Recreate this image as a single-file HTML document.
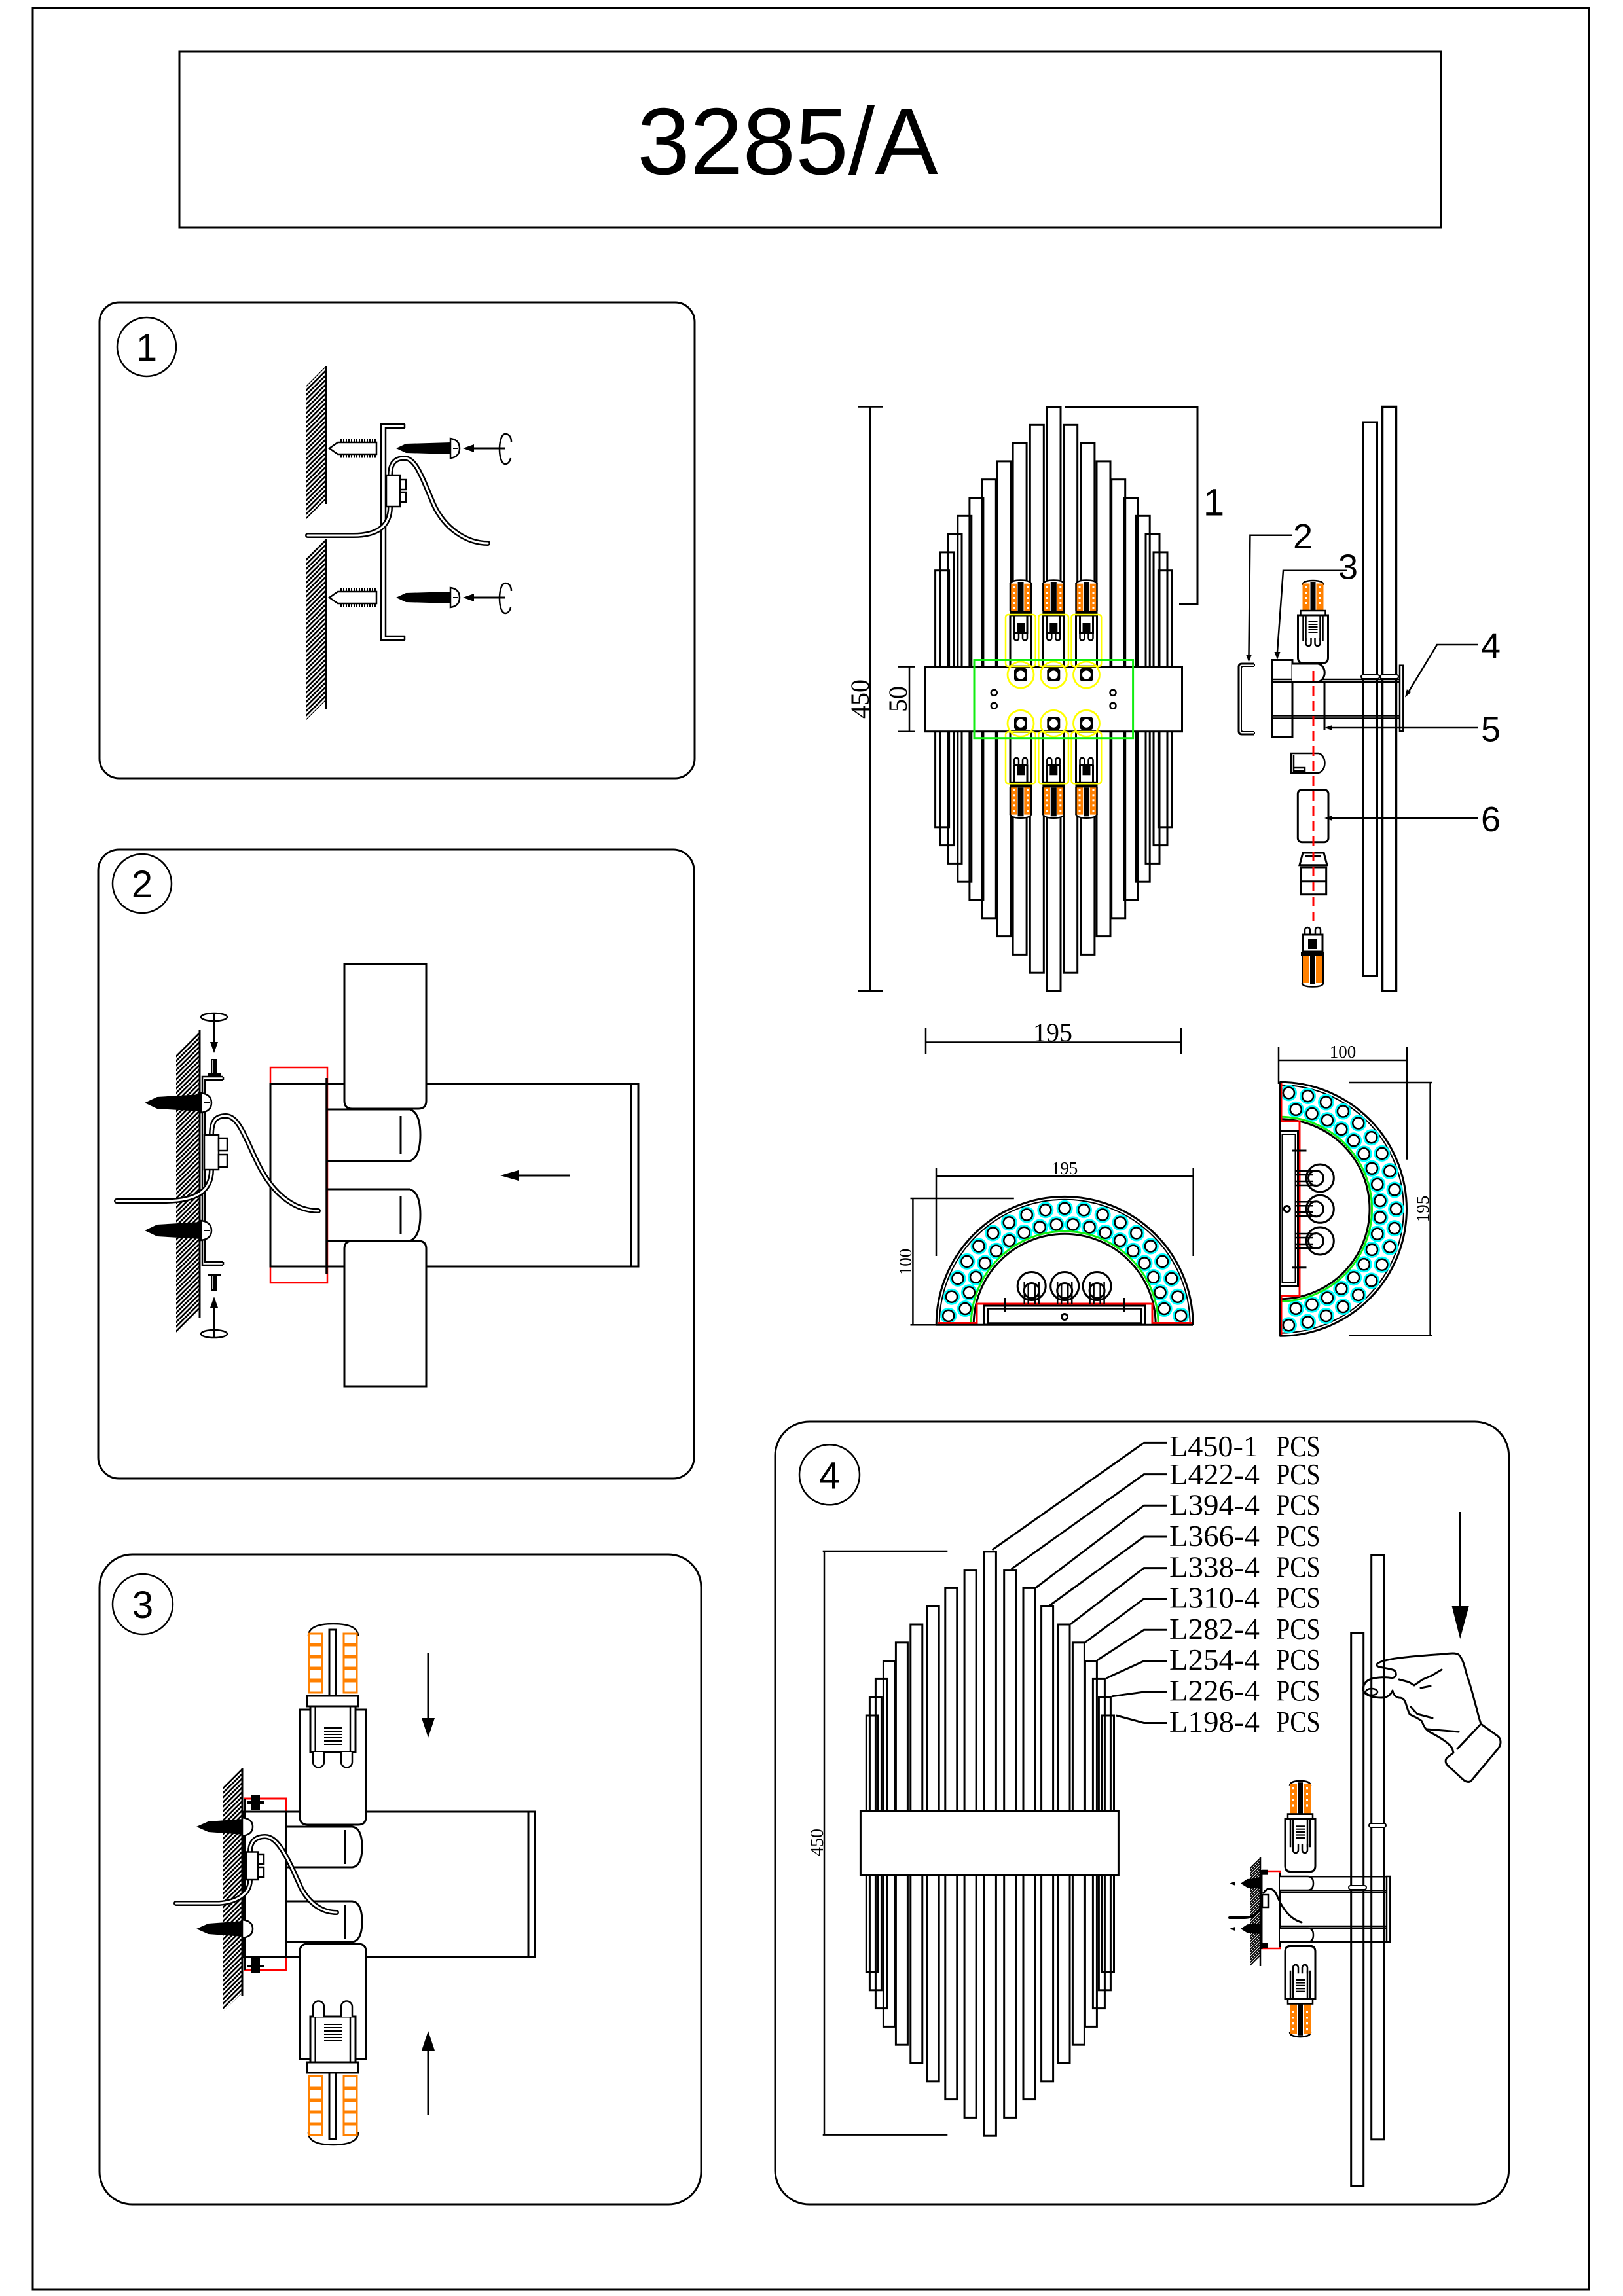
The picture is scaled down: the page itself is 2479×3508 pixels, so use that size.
<!DOCTYPE html>
<html><head><meta charset="utf-8"><title>3285/A</title>
<style>html,body{margin:0;padding:0;background:#fff}svg{display:block}</style></head>
<body>
<svg xmlns="http://www.w3.org/2000/svg" width="2479" height="3508" viewBox="0 0 2479 3508">
<defs>
<pattern id="h7" width="7" height="7" patternUnits="userSpaceOnUse"><path d="M-1,8 L8,-1 M-1,1 L1,-1 M6,8 L8,6" stroke="#000" stroke-width="2.6"/></pattern>
<pattern id="h4" width="4" height="4" patternUnits="userSpaceOnUse"><path d="M-1,5 L5,-1 M-1,1 L1,-1 M3,5 L5,3" stroke="#000" stroke-width="2"/></pattern>
<g id="hole"><circle r="12.5" fill="#00ffff"/><circle r="8.5" fill="#fff" stroke="#000" stroke-width="2.5"/></g>
<g id="fb">
 <path d="M-16,893 Q-16,886.5 0,886.5 Q16,886.5 16,893" fill="#fff" stroke="#000" stroke-width="2.5"/>
 <rect x="-16" y="891.7" width="10.7" height="41.6" fill="#ff8000"/>
 <rect x="5.3" y="891.7" width="10.7" height="41.6" fill="#ff8000"/>
 <rect x="-4.5" y="889" width="9" height="44" fill="#000"/>
 <g fill="#fff"><rect x="-12" y="896" width="3" height="3"/><rect x="-12" y="904" width="3" height="3"/><rect x="-12" y="912" width="3" height="3"/><rect x="-12" y="920" width="3" height="3"/><rect x="-12" y="928" width="3" height="3"/><rect x="9" y="896" width="3" height="3"/><rect x="9" y="904" width="3" height="3"/><rect x="9" y="912" width="3" height="3"/><rect x="9" y="920" width="3" height="3"/><rect x="9" y="928" width="3" height="3"/></g>
 <path d="M-16,891 V934 M16,891 V934" stroke="#000" stroke-width="2.5"/>
 <rect x="-17" y="933" width="34" height="7" fill="#000"/>
 <rect x="-16" y="940" width="32" height="78" fill="#fff" stroke="#000" stroke-width="3"/>
 <path d="M-10,940 V968 M10,940 V968 M-10,967 H10" stroke="#000" stroke-width="3"/>
 <rect x="-6" y="952" width="12" height="15" fill="#000"/>
 <path d="M-10,968 V975 A3.5,3.5 0 0 0 -3,975 V968 M3,968 V975 A3.5,3.5 0 0 0 10,975 V968" fill="none" stroke="#000" stroke-width="2.5"/>
 <rect x="-23" y="939" width="45.7" height="79" rx="4" fill="none" stroke="#ffff00" stroke-width="2.5"/>
 <circle cx="0" cy="1031" r="20" fill="none" stroke="#ffff00" stroke-width="2.8"/>
 <rect x="-10" y="1021" width="20" height="20" rx="4" fill="#000"/>
 <circle cx="0" cy="1031" r="6.5" fill="#fff"/>
</g>
<g id="sb">
 <path d="M-16,7 Q-16,0 0,0 Q16,0 16,7" fill="#fff" stroke="#000" stroke-width="2.5"/>
 <rect x="-16" y="4.5" width="11" height="41.5" fill="#ff8000"/>
 <rect x="5" y="4.5" width="11" height="41.5" fill="#ff8000"/>
 <rect x="-4" y="2" width="8" height="44" fill="#000"/>
 <g fill="#fff"><rect x="-12" y="9" width="3" height="3"/><rect x="-12" y="17" width="3" height="3"/><rect x="-12" y="25" width="3" height="3"/><rect x="-12" y="33" width="3" height="3"/><rect x="9" y="9" width="3" height="3"/><rect x="9" y="17" width="3" height="3"/><rect x="9" y="25" width="3" height="3"/><rect x="9" y="33" width="3" height="3"/></g>
 <rect x="-19" y="46" width="38" height="7" fill="#fff" stroke="#000" stroke-width="2.5"/>
 <path d="M-23,53 V118 Q-23,126 -15,126 H15 Q23,126 23,118 V53 Z" fill="#fff" stroke="#000" stroke-width="3"/>
 <path d="M-15,53 V92 M15,53 V92 M-11,53 V92 M11,53 V92" stroke="#000" stroke-width="2.5"/>
 <path d="M-7,63 H7 M-7,67 H7 M-7,71 H7 M-7,75 H7 M-7,79 H7" stroke="#000" stroke-width="2"/>
 <path d="M-11,88 V96 A4,4 0 0 0 -3,96 V88 M3,88 V96 A4,4 0 0 0 11,96 V88" fill="none" stroke="#000" stroke-width="2.5"/>
</g>
<g id="p3bulb">
 <rect x="474" y="2607" width="69" height="70" fill="#fff" stroke="#000" stroke-width="3"/>
 <path d="M481.7,2607 V2677 M535,2607 V2677" stroke="#000" stroke-width="2.5"/>
 <path d="M495,2640 H523 M495,2645 H523 M495,2650 H523 M495,2655 H523 M495,2660 H523 M495,2665 H523" stroke="#000" stroke-width="2"/>
 <path d="M478,2677 V2692 A8.5,8.5 0 0 0 495,2692 V2677 M521,2677 V2692 A8.5,8.5 0 0 0 538,2692 V2677" fill="#fff" stroke="#000" stroke-width="2.5"/>
 <rect x="469.5" y="2591" width="77.5" height="16" fill="#fff" stroke="#000" stroke-width="3"/>
 <path d="M471,2500 Q471,2481 509,2481 Q547,2481 547,2500" fill="#fff" stroke="#000" stroke-width="2.5"/>
 <g fill="#fff" stroke="#ff8000" stroke-width="3">
  <rect x="472" y="2496" width="20" height="16"/><rect x="472" y="2514" width="20" height="16"/><rect x="472" y="2532" width="20" height="16"/><rect x="472" y="2550" width="20" height="16"/><rect x="472" y="2569" width="20" height="17"/>
  <rect x="525" y="2496" width="20" height="16"/><rect x="525" y="2514" width="20" height="16"/><rect x="525" y="2532" width="20" height="16"/><rect x="525" y="2550" width="20" height="16"/><rect x="525" y="2569" width="20" height="17"/>
 </g>
 <rect x="503" y="2490" width="10.5" height="101" fill="#fff" stroke="#000" stroke-width="3"/>
</g>
</defs>
<rect width="2479" height="3508" fill="#fff"/>

<!-- outer border & title -->
<rect x="50" y="12" width="2377" height="3486" fill="none" stroke="#000" stroke-width="3"/>
<rect x="274" y="79" width="1927" height="269" fill="none" stroke="#000" stroke-width="3"/>
<text x="1203" y="266" text-anchor="middle" font-family="Liberation Sans, Arial, sans-serif" font-size="145">3285/A</text>

<!-- ========== PANEL 1 ========== -->
<g fill="none" stroke="#000" stroke-width="3">
<rect x="152" y="462" width="909" height="727" rx="30"/>
<circle cx="224" cy="530" r="45" stroke-width="2.5"/>
</g>
<text x="224" y="551" text-anchor="middle" font-family="Liberation Sans, sans-serif" font-size="58">1</text>
<polygon points="498,559 498,763 467,794 467,590" fill="url(#h7)"/>
<polygon points="498,823 498,1070 467,1101 467,854" fill="url(#h7)"/>
<g fill="none" stroke="#000" stroke-width="3">
<path d="M498.5,559 V770 M498.5,823 V1083"/>
<path d="M618,648 H582 V978 H618 M618,654 H589 V972 H618 M618,648 V654 M618,972 V978" stroke-width="2.5"/>
</g>
<g id="p1row">
<path d="M503,685 L516,676 H575 V694 H516 Z" fill="#fff" stroke="#000" stroke-width="2.5"/>
<path d="M520,673 H575 M520,697 H575" stroke="#000" stroke-width="5" stroke-dasharray="2 2"/>
<path d="M605,685 L620,678 L689,676 V694 L620,692 Z" fill="#000"/>
<path d="M688,670 V700 Q702,698 702,685 Q702,672 688,670 Z" fill="#fff" stroke="#000" stroke-width="2.5"/>
<path d="M692,685 H699" stroke="#000" stroke-width="2"/>
<path d="M718,685 H772" stroke="#000" stroke-width="3"/>
<polygon points="707,685 724,679 724,691" fill="#000"/>
<path d="M781,675 C781,666 776,663 772,663 C766,663 763,675 763,686 C763,698 766,709 772,709 C776,709 779,705 780,700" fill="none" stroke="#000" stroke-width="2.5"/>
</g>
<use href="#p1row" transform="translate(0,228)"/>
<g fill="none" stroke-linecap="round">
<path d="M470,818 H540 C575,818 596,805 596,774" stroke="#000" stroke-width="8"/>
<path d="M470,818 H540 C575,818 596,805 596,774" stroke="#fff" stroke-width="3"/>
<path d="M596,726 C596,708 603,700 618,700 C635,700 645,730 662,770 C680,810 715,830 745,830" stroke="#000" stroke-width="8"/>
<path d="M596,726 C596,708 603,700 618,700 C635,700 645,730 662,770 C680,810 715,830 745,830" stroke="#fff" stroke-width="3"/>
</g>
<g fill="#fff" stroke="#000" stroke-width="2.5">
<rect x="590" y="726" width="21" height="48"/>
<rect x="611" y="733" width="9" height="15"/>
<rect x="611" y="752" width="9" height="15"/>
</g>

<!-- ========== PANEL 2 ========== -->
<g fill="none" stroke="#000" stroke-width="3">
<rect x="150" y="1298" width="910" height="961" rx="32"/>
<circle cx="217" cy="1350" r="45" stroke-width="2.5"/>
</g>
<text x="217" y="1371" text-anchor="middle" font-family="Liberation Sans, sans-serif" font-size="58">2</text>
<rect x="413" y="1631" width="87" height="329" fill="none" stroke="#ff0000" stroke-width="2.5"/>
<g fill="none" stroke="#000" stroke-width="3">
<rect x="413" y="1656" width="562" height="279"/>
<path d="M964,1656 V1935"/>
<path d="M499,1647 V1947" stroke-width="3.5"/>
<path d="M500,1695 H626 Q642,1700 642,1734 Q642,1768 626,1774 H500 M612,1705 V1763"/>
<path d="M500,1817 H626 Q642,1822 642,1856 Q642,1890 626,1896 H500 M612,1827 V1886"/>
<path d="M526,1473 H651 V1682 Q651,1694 639,1694 H538 Q526,1694 526,1682 Z" fill="#fff"/>
<path d="M526,2118 H651 V1908 Q651,1896 639,1896 H538 Q526,1896 526,1908 Z" fill="#fff"/>
<path d="M870,1796 H785"/>
</g>
<polygon points="764,1796 792,1788 792,1804" fill="#000"/>
<polygon points="305,1574 305,2002 269,2038 269,1610" fill="url(#h7)"/>
<g fill="none" stroke="#000" stroke-width="3">
<path d="M305,1574 V2013"/>
<path d="M341,1645 H309 V1933 H341 M341,1650 H313 V1928 H341 M341,1645 V1650 M341,1928 V1933" stroke-width="2.5"/>
<ellipse cx="327" cy="1554" rx="20" ry="6" stroke-width="2.5"/>
<path d="M327,1548 V1595"/>
<ellipse cx="327" cy="2038" rx="20" ry="6" stroke-width="2.5"/>
<path d="M327,2044 V1995"/>
</g>
<polygon points="327,1609 321,1592 333,1592" fill="#000"/>
<polygon points="327,1981 321,1998 333,1998" fill="#000"/>
<g fill="#000">
<rect x="322" y="1618" width="10" height="24"/><rect x="317" y="1640" width="20" height="4"/>
<rect x="322" y="1948" width="10" height="24"/><rect x="317" y="1946" width="20" height="4"/>
</g>
<path d="M325,1620 V1640 M325,1950 V1970" stroke="#fff" stroke-width="1.5"/>
<g id="p2screw">
<path d="M221,1685 L240,1676 L307,1672 V1698 L240,1694 Z" fill="#000"/>
<path d="M307,1670 V1700 Q323,1698 323,1685 Q323,1672 307,1670 Z" fill="#fff" stroke="#000" stroke-width="2.5"/>
<path d="M311,1685 H320" stroke="#000" stroke-width="2"/>
</g>
<use href="#p2screw" transform="translate(0,195)"/>
<g fill="none" stroke-linecap="round">
<path d="M178,1835 H250 C300,1835 323,1820 323,1787" stroke="#000" stroke-width="8"/>
<path d="M178,1835 H250 C300,1835 323,1820 323,1787" stroke="#fff" stroke-width="3"/>
<path d="M323,1734 C323,1712 330,1705 345,1705 C365,1705 375,1740 395,1780 C420,1830 455,1850 486,1850" stroke="#000" stroke-width="8"/>
<path d="M323,1734 C323,1712 330,1705 345,1705 C365,1705 375,1740 395,1780 C420,1830 455,1850 486,1850" stroke="#fff" stroke-width="3"/>
</g>
<g fill="#fff" stroke="#000" stroke-width="2.5">
<rect x="312" y="1734" width="22" height="53"/>
<rect x="334" y="1739" width="13" height="19"/>
<rect x="334" y="1764" width="13" height="19"/>
</g>

<!-- ========== PANEL 3 ========== -->
<g fill="none" stroke="#000" stroke-width="3">
<rect x="152" y="2375" width="919" height="993" rx="50"/>
<circle cx="218" cy="2451" r="46" stroke-width="2.5"/>
</g>
<text x="218" y="2472" text-anchor="middle" font-family="Liberation Sans, sans-serif" font-size="58">3</text>
<polygon points="370,2701 370,3045 341,3073 341,2730" fill="url(#h7)"/>
<path d="M373,2748 H437 V3010 H373" fill="none" stroke="#ff0000" stroke-width="3"/>
<g fill="none" stroke="#000" stroke-width="3">
<path d="M370,2701 V3050"/>
<path d="M374,2748 V3010"/>
<rect x="373" y="2768" width="444" height="222"/>
<path d="M807,2768 V2990"/>
<path d="M437,2768 V2990" stroke-width="3.5"/>
<path d="M437,2791 H538 Q553,2793 553,2822 Q553,2851 538,2853 H437 M527,2796 V2848"/>
<path d="M437,2905 H538 Q553,2907 553,2936 Q553,2965 538,2967 H437 M527,2910 V2962"/>
<path d="M458,2612 V2776 Q458,2788 470,2788 H547 Q559,2788 559,2776 V2612 Z" fill="#fff"/>
<path d="M458,3146 V2982 Q458,2970 470,2970 H547 Q559,2970 559,2982 V3146 Z" fill="#fff"/>
<path d="M654,2526 V2630 M654,3232 V3128"/>
</g>
<use href="#p3bulb"/>
<use href="#p3bulb" transform="translate(0,5758) scale(1,-1)"/>
<polygon points="644,2625 664,2625 654,2655" fill="#000"/>
<polygon points="644,3133 664,3133 654,3103" fill="#000"/>
<g fill="#000">
<rect x="384" y="2743" width="13" height="22"/><rect x="378" y="2752" width="26" height="4"/>
<rect x="384" y="2992" width="13" height="22"/><rect x="378" y="3002" width="26" height="4"/>
</g>
<g id="p3screw">
<path d="M300,2791 L318,2783 L372,2779 V2803 L318,2799 Z" fill="#000"/>
<path d="M370,2777 V2805 Q386,2803 386,2791 Q386,2779 370,2777 Z" fill="#fff" stroke="#000" stroke-width="2.5"/>
</g>
<use href="#p3screw" transform="translate(0,156)"/>
<g fill="none" stroke-linecap="round">
<path d="M269,2908 H335 C360,2906 382,2895 382,2872" stroke="#000" stroke-width="8"/>
<path d="M269,2908 H335 C360,2906 382,2895 382,2872" stroke="#fff" stroke-width="3"/>
<path d="M382,2829 C382,2812 392,2806 405,2806 C425,2806 440,2840 460,2885 C475,2912 495,2922 514,2922" stroke="#000" stroke-width="8"/>
<path d="M382,2829 C382,2812 392,2806 405,2806 C425,2806 440,2840 460,2885 C475,2912 495,2922 514,2922" stroke="#fff" stroke-width="3"/>
</g>
<g fill="#fff" stroke="#000" stroke-width="2.5">
<rect x="376" y="2829.5" width="18" height="42.5"/>
<rect x="394" y="2833" width="9" height="15"/>
<rect x="394" y="2853" width="9" height="15"/>
</g>

<!-- ========== MAIN FRONT VIEW ========== -->
<g fill="none" stroke="#000" stroke-width="3">
<rect x="1428.6" y="871.7" width="21" height="392.1"/><rect x="1769.4" y="871.7" width="21" height="392.1"/>
<rect x="1436" y="843.9" width="21" height="447.7"/><rect x="1762" y="843.9" width="21" height="447.7"/>
<rect x="1448" y="816.1" width="21" height="503.3"/><rect x="1750" y="816.1" width="21" height="503.3"/>
<rect x="1462.8" y="788.3" width="21" height="558.9"/><rect x="1735.2" y="788.3" width="21" height="558.9"/>
<rect x="1480.9" y="760.5" width="21" height="614.5"/><rect x="1717.1" y="760.5" width="21" height="614.5"/>
<rect x="1500.3" y="732.7" width="21" height="670.1"/><rect x="1697.7" y="732.7" width="21" height="670.1"/>
<rect x="1523" y="704.9" width="21" height="725.7"/><rect x="1675" y="704.9" width="21" height="725.7"/>
<rect x="1547.1" y="677.1" width="21" height="781.3"/><rect x="1650.9" y="677.1" width="21" height="781.3"/>
<rect x="1573.3" y="649.3" width="21" height="836.9"/><rect x="1624.7" y="649.3" width="21" height="836.9"/>
<rect x="1599" y="621.5" width="21" height="892.5"/>
<rect x="1412.5" y="1018.6" width="393" height="99.1" fill="#fff"/>
</g>
<use href="#fb" transform="translate(1559,0)"/>
<use href="#fb" transform="translate(1609.3,0)"/>
<use href="#fb" transform="translate(1659.5,0)"/>
<use href="#fb" transform="translate(1559,2136.3) scale(1,-1)"/>
<use href="#fb" transform="translate(1609.3,2136.3) scale(1,-1)"/>
<use href="#fb" transform="translate(1659.5,2136.3) scale(1,-1)"/>
<g fill="#fff" stroke="#000" stroke-width="2.5">
<circle cx="1518.3" cy="1058.3" r="4.5"/><circle cx="1518.3" cy="1078.3" r="4.5"/>
<circle cx="1700" cy="1058.3" r="4.5"/><circle cx="1700" cy="1078.3" r="4.5"/>
</g>
<rect x="1488" y="1008.5" width="242.6" height="119.2" fill="none" stroke="#11ee11" stroke-width="3"/>
<g fill="none" stroke="#000" stroke-width="2.5">
<path d="M1329,621.5 V1514 M1311,621.5 H1349 M1311,1514 H1349"/>
<path d="M1389,1018.6 V1117.7 M1372,1018.6 H1398 M1372,1117.7 H1398"/>
<path d="M1414,1592.5 H1804 M1414,1571 V1611 M1804,1571 V1611"/>
<path d="M1626.8,621.5 H1829 V922.8 H1801" stroke-width="3"/>
</g>
<g font-family="Liberation Serif, serif" font-size="40">
<text transform="translate(1327,1068) rotate(-90)" text-anchor="middle">450</text>
<text transform="translate(1385,1068) rotate(-90)" text-anchor="middle">50</text>
<text x="1608" y="1591" text-anchor="middle">195</text>
</g>

<!-- ========== MAIN SIDE VIEW ========== -->
<g fill="none" stroke="#000" stroke-width="3">
<rect x="2082.5" y="645" width="21" height="846"/>
<rect x="2111.5" y="621.5" width="21" height="892.5" stroke-width="3.5"/>
<rect x="2079" y="1031" width="28" height="6" rx="3" fill="#fff" stroke-width="2"/>
<rect x="2108" y="1031" width="28" height="6" rx="3" fill="#fff" stroke-width="2"/>
<path d="M1916,1014 H1897 Q1892,1014 1892,1019 V1117 Q1892,1122 1897,1122 H1916"/>
<path d="M1916,1018 H1899 Q1896,1018 1896,1021 V1115 Q1896,1118 1899,1118 H1916" stroke-width="2"/>
<path d="M1916,1014 V1018 M1916,1118 V1122" stroke-width="2"/>
<rect x="1943" y="1008.5" width="31" height="117.5" fill="#fff"/>
<path d="M1943,1038 H2138 M1943,1042 H2138 M1943,1093.5 H2138 M1943,1097.5 H2138" stroke-width="2.5"/>
<rect x="2138" y="1016.7" width="5.3" height="100.6" stroke-width="2.5"/>
<path d="M1974,1014 H2013 A12,14 0 0 1 2013,1041.7 H1974" fill="#fff"/>
<path d="M2023,1041.7 V1115"/>
<path d="M1972,1151 H2014 A11,15 0 0 1 2014,1180.7 H1972 Z M1976,1154 V1178 H1993 V1173 H1976" stroke-width="2.5"/>
<rect x="1982.3" y="1206.7" width="46.7" height="80" rx="6"/>
<path d="M1985,1321.7 L1990,1303 H2022 L2027,1321.7 Z M1994,1308 H2018"/>
<rect x="1987.3" y="1325" width="38.4" height="41.7"/>
<path d="M1987.3,1346.7 H2025.7"/>
</g>
<use href="#sb" transform="translate(2005.5,887)"/>
<g>
<path d="M1993,1430 V1421 A4,4 0 0 1 2001,1421 V1430 M2009,1430 V1421 A4,4 0 0 1 2017,1421 V1430" fill="none" stroke="#000" stroke-width="2.5"/>
<rect x="1990" y="1428" width="30" height="26" fill="#fff" stroke="#000" stroke-width="3"/>
<rect x="1998" y="1434" width="14" height="16" fill="#000"/>
<rect x="1987" y="1454" width="36" height="6" fill="#000"/>
<rect x="1989" y="1460" width="11" height="42" fill="#ff8000"/>
<rect x="2010" y="1460" width="11" height="42" fill="#ff8000"/>
<rect x="2001" y="1460" width="8" height="44" fill="#000"/>
<path d="M1989,1460 V1502 M2021,1460 V1502" stroke="#000" stroke-width="2"/>
<path d="M1989,1502 Q1989,1507.5 2005,1507.5 Q2021,1507.5 2021,1502" fill="none" stroke="#000" stroke-width="2.5"/>
</g>
<path d="M2006,1025 V1407" stroke="#ff0000" stroke-width="3" stroke-dasharray="15 8"/>
<g fill="none" stroke="#000" stroke-width="2.5">
<path d="M1973,817.7 H1909.4 L1907.5,1000"/>
<path d="M2058,871.7 H1960 L1951,996"/>
<path d="M2257.6,985 H2195 L2152,1056"/>
<path d="M2257.6,1112 H2034"/>
<path d="M2257.6,1250 H2034"/>
</g>
<g fill="#000">
<polygon points="1903,1000 1912,1000 1907.5,1012"/>
<polygon points="1946.5,996 1955.5,996 1951,1008"/>
<polygon points="2155.6,1057.4 2148.8,1053.2 2146,1065.5"/>
<polygon points="2023,1112 2035,1108 2035,1116"/>
<polygon points="2023,1250 2035,1246 2035,1254"/>
</g>
<g font-family="Liberation Sans, sans-serif" font-size="54" text-anchor="middle">
<text x="1854" y="787.5" font-size="58">1</text>
<text x="1990" y="838">2</text>
<text x="2059" y="884.6">3</text>
<text x="2277" y="1005">4</text>
<text x="2277" y="1132.4">5</text>
<text x="2277" y="1270">6</text>
</g>
<g fill="none" stroke="#000" stroke-width="2.5">
<path d="M1953,1620 H2148.5 M1953,1600 V1656 M2149,1600 V1771.7"/>
</g>

<!-- ========== SEMICIRCLE BOTTOM VIEW ========== -->
<g fill="none" stroke="#000" stroke-width="2.5">
<path d="M1430,1797 H1822.7 M1430,1785 V1919 M1822.7,1785 V1919"/>
<path d="M1394.4,1831 V2024 M1390.5,1831 H1548.8 M1390.5,2024.3 H1432"/>
</g>
<g font-family="Liberation Serif, serif" font-size="27">
<text x="1626" y="1794" text-anchor="middle">195</text>
<text transform="translate(1392,1928) rotate(-90)" text-anchor="middle">100</text>
<text x="2051" y="1616" text-anchor="middle">100</text>
<text transform="translate(2182,1847) rotate(-90)" text-anchor="middle">195</text>
</g>
<g fill="none" stroke="#000" stroke-width="3">
<path d="M1430.2,2024.3 A196,196 0 0 1 1822.2,2024.3"/>
<path d="M1434.7,2024.3 A191.5,191.5 0 0 1 1817.7,2024.3" stroke-width="2"/>
</g>
<g>
<use href="#hole" x="1803.65" y="2010.33"/><use href="#hole" x="1798.91" y="1981.24"/><use href="#hole" x="1789.44" y="1953.32"/><use href="#hole" x="1775.48" y="1927.35"/><use href="#hole" x="1757.44" y="1904.05"/><use href="#hole" x="1735.79" y="1884.03"/><use href="#hole" x="1711.13" y="1867.87"/><use href="#hole" x="1684.15" y="1856.0"/><use href="#hole" x="1655.58" y="1848.74"/><use href="#hole" x="1626.2" y="1846.3"/>
<use href="#hole" x="1448.75" y="2010.33"/><use href="#hole" x="1453.49" y="1981.24"/><use href="#hole" x="1462.96" y="1953.32"/><use href="#hole" x="1476.92" y="1927.35"/><use href="#hole" x="1494.96" y="1904.05"/><use href="#hole" x="1516.61" y="1884.03"/><use href="#hole" x="1541.27" y="1867.87"/><use href="#hole" x="1568.25" y="1856.0"/><use href="#hole" x="1596.82" y="1848.74"/>
<use href="#hole" x="1778.2" y="1999.55"/><use href="#hole" x="1772.03" y="1974.8"/><use href="#hole" x="1761.86" y="1951.41"/><use href="#hole" x="1747.97" y="1930.02"/><use href="#hole" x="1730.74" y="1911.21"/><use href="#hole" x="1710.64" y="1895.51"/><use href="#hole" x="1688.22" y="1883.34"/><use href="#hole" x="1664.11" y="1875.04"/><use href="#hole" x="1638.95" y="1870.83"/>
<use href="#hole" x="1474.2" y="1999.55"/><use href="#hole" x="1480.37" y="1974.8"/><use href="#hole" x="1490.54" y="1951.41"/><use href="#hole" x="1504.43" y="1930.02"/><use href="#hole" x="1521.66" y="1911.21"/><use href="#hole" x="1541.76" y="1895.51"/><use href="#hole" x="1564.18" y="1883.34"/><use href="#hole" x="1588.29" y="1875.04"/><use href="#hole" x="1613.45" y="1870.83"/>
</g>
<path d="M1483.2,2024.3 A143,143 0 0 1 1769.2,2024.3" fill="none" stroke="#11ee11" stroke-width="3"/>
<path d="M1487.2,2024.3 A139,139 0 0 1 1765.2,2024.3" fill="none" stroke="#000" stroke-width="3"/>
<path d="M1432,2021.5 H1492 V1992 H1760 V2021.5 H1820" fill="none" stroke="#ff0000" stroke-width="3"/>
<g fill="none" stroke="#000" stroke-width="3">
<path d="M1430,2024.3 H1822"/>
<rect x="1503" y="1995" width="246" height="29" fill="#fff"/>
<rect x="1509" y="1999.5" width="234" height="22" stroke-width="2.5"/>
<path d="M1535,1983 V2005 M1717,1983 V2005"/>
<circle cx="1626" cy="2012" r="4.5"/>
<circle cx="1575.7" cy="1965" r="21.5"/><circle cx="1626.2" cy="1965" r="21.5"/><circle cx="1675.6" cy="1965" r="21.5"/>
<circle cx="1575.7" cy="1972" r="11.5"/><circle cx="1626.2" cy="1972" r="11.5"/><circle cx="1675.6" cy="1972" r="11.5"/>
<path d="M1564.7,1958 V1992 M1570.7,1960 V1992 M1580.7,1960 V1992 M1586.7,1958 V1992 M1615.2,1958 V1992 M1621.2,1960 V1992 M1631.2,1960 V1992 M1637.2,1958 V1992 M1664.6,1958 V1992 M1670.6,1960 V1992 M1680.6,1960 V1992 M1686.6,1958 V1992" stroke-width="2.5"/>
</g>

<!-- ========== SEMICIRCLE SIDE VIEW ========== -->
<g fill="none" stroke="#000" stroke-width="2.5">
<path d="M2184.6,1654 V2040.7 M2060,1654 H2187 M2060,2040.7 H2187"/>
</g>
<g fill="none" stroke="#000" stroke-width="3">
<path d="M1954.5,1653.3 A194,194 0 0 1 1954.5,2041.3"/>
<path d="M1954.5,1657.8 A189.5,189.5 0 0 1 1954.5,2036.8" stroke-width="2"/>
</g>
<g>
<use href="#hole" x="1968.47" y="1669.85"/><use href="#hole" x="1968.47" y="2024.75"/><use href="#hole" x="1997.56" y="1674.59"/><use href="#hole" x="1997.56" y="2020.01"/><use href="#hole" x="2025.48" y="1684.06"/><use href="#hole" x="2025.48" y="2010.54"/><use href="#hole" x="2051.45" y="1698.02"/><use href="#hole" x="2051.45" y="1996.58"/><use href="#hole" x="2074.75" y="1716.06"/><use href="#hole" x="2074.75" y="1978.54"/><use href="#hole" x="2094.77" y="1737.71"/><use href="#hole" x="2094.77" y="1956.89"/><use href="#hole" x="2110.93" y="1762.37"/><use href="#hole" x="2110.93" y="1932.23"/><use href="#hole" x="2122.8" y="1789.35"/><use href="#hole" x="2122.8" y="1905.25"/><use href="#hole" x="2130.06" y="1817.92"/><use href="#hole" x="2130.06" y="1876.68"/><use href="#hole" x="2132.5" y="1847.3"/>
<use href="#hole" x="1979.25" y="1695.3"/><use href="#hole" x="1979.25" y="1999.3"/><use href="#hole" x="2004.0" y="1701.47"/><use href="#hole" x="2004.0" y="1993.13"/><use href="#hole" x="2027.39" y="1711.64"/><use href="#hole" x="2027.39" y="1982.96"/><use href="#hole" x="2048.78" y="1725.53"/><use href="#hole" x="2048.78" y="1969.07"/><use href="#hole" x="2067.59" y="1742.76"/><use href="#hole" x="2067.59" y="1951.84"/><use href="#hole" x="2083.29" y="1762.86"/><use href="#hole" x="2083.29" y="1931.74"/><use href="#hole" x="2095.46" y="1785.28"/><use href="#hole" x="2095.46" y="1909.32"/><use href="#hole" x="2103.76" y="1809.39"/><use href="#hole" x="2103.76" y="1885.21"/><use href="#hole" x="2107.97" y="1834.55"/><use href="#hole" x="2107.97" y="1860.05"/>
</g>
<path d="M1954.5,1706.3 A141,141 0 0 1 1954.5,1988.3" fill="none" stroke="#11ee11" stroke-width="3"/>
<path d="M1954.5,1709.8 A137.5,137.5 0 0 1 1954.5,1984.8" fill="none" stroke="#000" stroke-width="3"/>
<path d="M1957,1655 V1713 H1985 V1980 H1957 V2039" fill="none" stroke="#ff0000" stroke-width="3"/>
<g fill="none" stroke="#000" stroke-width="3">
<path d="M1954.5,1653 V2041.5"/>
<rect x="1954.5" y="1728" width="28" height="237" fill="#fff"/>
<rect x="1958.5" y="1733" width="20" height="227" stroke-width="2"/>
<path d="M1974,1758 H1995.5 M1974,1936.7 H1995.5"/>
<circle cx="1965.8" cy="1847" r="4.5"/>
<circle cx="2016.3" cy="1800" r="21"/><circle cx="2016.3" cy="1847.3" r="21"/><circle cx="2016.3" cy="1896" r="21"/>
<circle cx="2010" cy="1800" r="11.5"/><circle cx="2010" cy="1847.3" r="11.5"/><circle cx="2010" cy="1896" r="11.5"/>
<path d="M1980,1789 H2010 M1980,1795 H2005 M1980,1805 H2005 M1980,1811 H2010 M1980,1836.3 H2010 M1980,1842.3 H2005 M1980,1852.3 H2005 M1980,1858.3 H2010 M1980,1885 H2010 M1980,1891 H2005 M1980,1901 H2005 M1980,1907 H2010" stroke-width="2.5"/>
</g>

<!-- ========== PANEL 4 ========== -->
<g fill="none" stroke="#000" stroke-width="3">
<rect x="1184" y="2172" width="1120.6" height="1196" rx="52"/>
<circle cx="1267" cy="2253.3" r="46" stroke-width="2.5"/>
</g>
<text x="1267" y="2274.3" text-anchor="middle" font-family="Liberation Sans, sans-serif" font-size="58">4</text>
<g fill="none" stroke="#000" stroke-width="3">
<rect x="1323.3" y="2621" width="18" height="392"/><rect x="1683.5" y="2621" width="18" height="392"/>
<rect x="1328.4" y="2593.2" width="18" height="447.6"/><rect x="1678.4" y="2593.2" width="18" height="447.6"/>
<rect x="1337.4" y="2565.4" width="18" height="503.2"/><rect x="1669.4" y="2565.4" width="18" height="503.2"/>
<rect x="1349.4" y="2537.6" width="18" height="558.8"/><rect x="1657.4" y="2537.6" width="18" height="558.8"/>
<rect x="1368.4" y="2509.8" width="18" height="614.4"/><rect x="1638.4" y="2509.8" width="18" height="614.4"/>
<rect x="1390.8" y="2482" width="18" height="670"/><rect x="1616" y="2482" width="18" height="670"/>
<rect x="1416.2" y="2454.2" width="18" height="725.6"/><rect x="1590.6" y="2454.2" width="18" height="725.6"/>
<rect x="1443.8" y="2426.4" width="18" height="781.2"/><rect x="1563" y="2426.4" width="18" height="781.2"/>
<rect x="1473.1" y="2398.6" width="18" height="836.8"/><rect x="1533.7" y="2398.6" width="18" height="836.8"/>
<rect x="1503.4" y="2370.8" width="18" height="892.4"/>
<rect x="1314.4" y="2767.4" width="394" height="98" fill="#fff"/>
<path d="M1259,2372 V3261 M1256.7,2370 H1447.3 M1256.7,3261.6 H1447.3" stroke-width="2.5"/>
</g>
<text transform="translate(1257,2815) rotate(-90)" text-anchor="middle" font-family="Liberation Serif, serif" font-size="28">450</text>
<g fill="none" stroke="#000" stroke-width="3">
<path d="M1782,2204.4 H1747.3 L1515.5,2368"/>
<path d="M1782,2252.6 H1747.3 L1544.8,2397.3"/>
<path d="M1782,2300.2 H1747.3 L1582.6,2425.5"/>
<path d="M1782,2348 H1747.3 L1603.3,2453"/>
<path d="M1782,2395.6 H1747.3 L1635,2481.6"/>
<path d="M1782,2442.7 H1747.3 L1657.7,2509.2"/>
<path d="M1782,2490.2 H1747.3 L1675.6,2536.7"/>
<path d="M1782,2537.8 H1747.3 L1689.4,2564.3"/>
<path d="M1782,2585 H1747.3 L1698,2591.8"/>
<path d="M1782,2632.5 H1747.3 L1704.9,2621"/>
</g>
<g font-family="Liberation Serif, serif" font-size="46">
<text x="1786" y="2225" textLength="136" lengthAdjust="spacingAndGlyphs">L450-1</text><text x="1949.4" y="2225" textLength="67" lengthAdjust="spacingAndGlyphs">PCS</text>
<text x="1786" y="2268" textLength="138" lengthAdjust="spacingAndGlyphs">L422-4</text><text x="1949.4" y="2268" textLength="67" lengthAdjust="spacingAndGlyphs">PCS</text>
<text x="1786" y="2314.6" textLength="138" lengthAdjust="spacingAndGlyphs">L394-4</text><text x="1949.4" y="2314.6" textLength="67" lengthAdjust="spacingAndGlyphs">PCS</text>
<text x="1786" y="2361.8" textLength="138" lengthAdjust="spacingAndGlyphs">L366-4</text><text x="1949.4" y="2361.8" textLength="67" lengthAdjust="spacingAndGlyphs">PCS</text>
<text x="1786" y="2409.3" textLength="138" lengthAdjust="spacingAndGlyphs">L338-4</text><text x="1949.4" y="2409.3" textLength="67" lengthAdjust="spacingAndGlyphs">PCS</text>
<text x="1786" y="2456.5" textLength="138" lengthAdjust="spacingAndGlyphs">L310-4</text><text x="1949.4" y="2456.5" textLength="67" lengthAdjust="spacingAndGlyphs">PCS</text>
<text x="1786" y="2504" textLength="138" lengthAdjust="spacingAndGlyphs">L282-4</text><text x="1949.4" y="2504" textLength="67" lengthAdjust="spacingAndGlyphs">PCS</text>
<text x="1786" y="2551.2" textLength="138" lengthAdjust="spacingAndGlyphs">L254-4</text><text x="1949.4" y="2551.2" textLength="67" lengthAdjust="spacingAndGlyphs">PCS</text>
<text x="1786" y="2598.7" textLength="138" lengthAdjust="spacingAndGlyphs">L226-4</text><text x="1949.4" y="2598.7" textLength="67" lengthAdjust="spacingAndGlyphs">PCS</text>
<text x="1786" y="2646" textLength="138" lengthAdjust="spacingAndGlyphs">L198-4</text><text x="1949.4" y="2646" textLength="67" lengthAdjust="spacingAndGlyphs">PCS</text>
</g>
<g fill="none" stroke="#000" stroke-width="3">
<rect x="2063.7" y="2495.5" width="19" height="844.5"/>
<rect x="2094.7" y="2376" width="19" height="892.8"/>
<rect x="2091" y="2786" width="26" height="6" rx="3" fill="#fff" stroke-width="2"/>
<rect x="2060" y="2881" width="27" height="6" rx="3" fill="#fff" stroke-width="2"/>
<path d="M2230.2,2310 V2460"/>
</g>
<polygon points="2217.6,2454 2243.7,2454 2230.2,2504" fill="#000"/>
<g fill="none" stroke="#000" stroke-width="3" stroke-linejoin="round" stroke-linecap="round">
<path d="M2103,2543 C2108,2535 2150,2531 2193,2528 C2210,2527 2222,2524 2228,2528 C2236,2536 2238,2552 2242,2564 C2248,2580 2252,2600 2256,2612 C2258,2622 2260,2628 2262,2634 L2287,2652 C2293,2656 2294,2665 2288,2672 L2247,2721 C2243,2724 2239,2722 2236,2720 L2212,2698 C2207,2694 2207,2688 2211,2685 L2220,2678 L2218,2671 C2212,2662 2200,2655 2187,2648 C2180,2645 2175,2640 2172,2630 C2165,2624 2157,2622 2153,2619 C2150,2612 2148,2605 2147,2602 C2145,2597 2143,2594 2137,2594 C2131,2593 2128,2588 2127,2583 C2124,2590 2118,2594 2110,2594 C2100,2594 2090,2592 2084,2586 C2080,2580 2083,2570 2092,2566 C2100,2563 2113,2562 2121,2563 C2126,2564 2130,2564 2132,2560 C2133,2556 2131,2552 2127,2551 C2120,2549 2112,2548 2107,2547 C2104,2546 2102,2545 2103,2543"/>
<path d="M2226,2672 L2262,2634"/>
<path d="M2137,2566 L2152,2570 L2160,2575 L2173,2566 L2187,2560 L2202,2551"/>
<path d="M2170,2579 L2185,2576"/>
<path d="M2155,2608 L2165,2619 L2188,2625"/>
<path d="M2180,2642 L2228,2646"/>
<ellipse cx="2095" cy="2585" rx="9" ry="5" stroke-width="2.5"/>
</g>
<polygon points="1925,2838 1925,2990 1910,3004 1910,2852" fill="url(#h4)"/>
<path d="M1925,2859 H1955 V2977 H1925" fill="none" stroke="#ff0000" stroke-width="2.5"/>
<g fill="none" stroke="#000" stroke-width="3">
<path d="M1925,2838 V3004" stroke-width="2.5"/>
<path d="M1927,2857 V2978"/>
<path d="M1955,2862 V2975" stroke-width="3.5"/>
<path d="M1955,2867.2 H2118 M1955,2888.2 H2118 M1955,2891.5 H2118 M1955,2943 H2118 M1955,2946 H2118 M1955,2967 H2118" stroke-width="2.5"/>
<rect x="2118" y="2867" width="5.3" height="100" stroke-width="2.5"/>
<path d="M1955,2867 H1997 Q2006,2867 2006,2877.5 Q2006,2888 1997,2888 H1955" fill="#fff" stroke-width="2.5"/>
<path d="M1955,2946 H1997 Q2006,2946 2006,2956.5 Q2006,2967 1997,2967 H1955" fill="#fff" stroke-width="2.5"/>
</g>
<use href="#sb" transform="translate(1986,2721) scale(1,1.1)"/>
<use href="#sb" transform="translate(1986,3112) scale(1,-1.1)"/>
<g fill="#000">
<polygon points="1878,2877.7 1887,2874.5 1887,2881"/>
<polygon points="1895,2877.7 1905,2871 1927,2869 1927,2886 1905,2884"/>
<polygon points="1878,2947 1887,2943.8 1887,2950.2"/>
<polygon points="1895,2947 1905,2940.3 1927,2938.3 1927,2955.3 1905,2953.3"/>
<rect x="1927" y="2856.7" width="10" height="8"/>
<rect x="1927" y="2968" width="10" height="8"/>
</g>
<g fill="none" stroke="#000" stroke-linecap="round">
<path d="M1878,2930 H1900 C1915,2930 1922,2922 1925,2915" stroke-width="4"/>
<path d="M1930,2892 C1936,2883 1945,2884 1950,2895 C1958,2915 1970,2932 1988,2937" stroke-width="3"/>
</g>
<rect x="1928" y="2895" width="10" height="19" fill="#fff" stroke="#000" stroke-width="2.5"/>
</svg>
</body></html>
